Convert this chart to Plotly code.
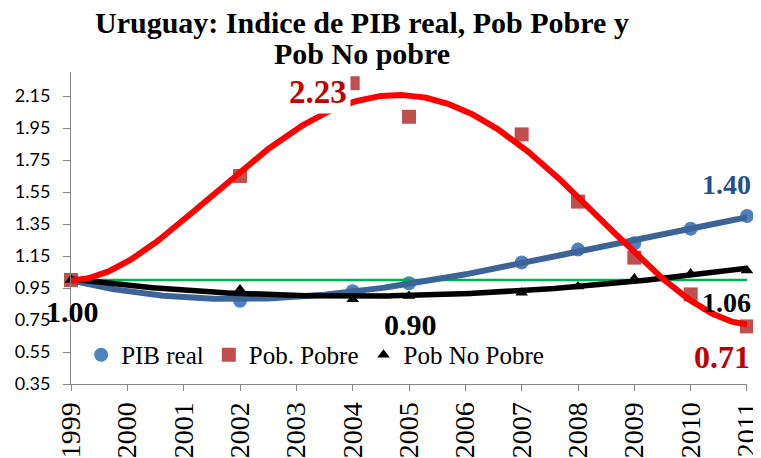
import numpy as np
import plotly.graph_objects as go

years = [1999, 2002, 2004, 2005, 2007, 2008, 2009, 2010, 2011]
pib_real = [1.00, 0.87, 0.93, 0.98, 1.11, 1.19, 1.23, 1.32, 1.40]
pob_pobre = [1.00, 1.65, 2.23, 2.02, 1.91, 1.49, 1.14, 0.91, 0.71]
pob_no_pobre = [1.00, 0.94, 0.88, 0.90, 0.92, 0.96, 1.01, 1.04, 1.06]
base_x = [1999, 2011]
base_y = [1.0, 1.0]
tick_years = list(range(1999, 2012))
y_ticks = [0.35, 0.55, 0.75, 0.95, 1.15, 1.35, 1.55, 1.75, 1.95, 2.15]

SERIF = "Liberation Serif, Times New Roman, serif"

def trend(xs, ys, deg):
    xs = np.array(xs, float)
    c = np.polyfit(xs - 2005, np.array(ys, float), deg)
    xx = np.linspace(1999, 2011, 300)
    return xx, np.polyval(c, xx - 2005)

fig = go.Figure()
fig.add_trace(go.Scatter(x=years, y=pib_real, mode="markers", name="PIB real",
                         marker=dict(symbol="circle", size=14, color="#4F81BD"), cliponaxis=False))
fig.add_trace(go.Scatter(x=years, y=pob_pobre, mode="markers", name="Pob. Pobre",
                         marker=dict(symbol="square", size=14, color="#C0504D"), cliponaxis=False))
fig.add_trace(go.Scatter(x=years, y=pob_no_pobre, mode="markers", name="Pob No Pobre",
                         marker=dict(symbol="triangle-up", size=11, color="#000000"), cliponaxis=False))
fig.add_trace(go.Scatter(x=base_x, y=base_y, mode="lines", showlegend=False,
                         line=dict(color="#00B050", width=2.5)))
bx, by = trend(years, pib_real, 3)
fig.add_trace(go.Scatter(x=bx, y=by, mode="lines", showlegend=False,
                         line=dict(color="#3C6496", width=6)))
kx, ky = trend(years, pob_no_pobre, 3)
fig.add_trace(go.Scatter(x=kx, y=ky, mode="lines", showlegend=False,
                         line=dict(color="#000000", width=5.5)))
rx, ry = trend(years, pob_pobre, 4)
fig.add_trace(go.Scatter(x=rx, y=ry, mode="lines", showlegend=False,
                         line=dict(color="#FF0000", width=6)))

ann = []
def lab(text, x, y, color, size):
    ann.append(dict(text="<b>%s</b>" % text, x=x, y=y, xref="x", yref="y", showarrow=False,
                    font=dict(family=SERIF, size=size, color=color),
                    xanchor="center", yanchor="middle"))

lab("%.2f" % pob_pobre[2], 2003.39, 2.175, "#C00000", 33)
ann[-1]["bgcolor"] = "white"
ann[-1]["borderpad"] = 3
lab("%.2f" % pib_real[-1], 2010.63, 1.60, "#254F8C", 28)
lab("%.2f" % pob_pobre[-1], 2010.56, 0.52, "#C00000", 32)
lab("%.2f" % pob_no_pobre[-1], 2010.63, 0.862, "#000000", 28)
lab("%.2f" % pib_real[0], 1999.02, 0.806, "#000000", 30)
lab("%.2f" % pob_no_pobre[3], 2005.02, 0.72, "#000000", 30)

ann.append(dict(text="<b>Uruguay: Indice de PIB real, Pob Pobre y</b>", x=0.4305, y=1.158,
                xref="paper", yref="paper", showarrow=False, xanchor="center", yanchor="middle",
                font=dict(family=SERIF, size=30, color="#000000")))
ann.append(dict(text="<b>Pob No pobre</b>", x=0.4305, y=1.059,
                xref="paper", yref="paper", showarrow=False, xanchor="center", yanchor="middle",
                font=dict(family=SERIF, size=30, color="#000000")))

fig.update_layout(
    width=753, height=450,
    margin=dict(l=63, r=14, t=64, b=74),
    paper_bgcolor="white", plot_bgcolor="white",
    showlegend=True,
    legend=dict(orientation="h", x=0.015, y=0.093, xanchor="left", yanchor="middle",
                font=dict(family=SERIF, size=25, color="#000000"),
                bgcolor="rgba(0,0,0,0)", itemwidth=30, tracegroupgap=0),
    annotations=ann,
    xaxis=dict(range=[1998.9999, 2011.0001], tickvals=tick_years, ticktext=[str(y) for y in tick_years],
               tickangle=-90, showgrid=False, zeroline=False, showline=True,
               linecolor="#868686", linewidth=1, ticks="outside", ticklen=6, tickcolor="#868686",
               tickfont=dict(family=SERIF, size=28, color="#000000"), automargin=False,
               ticklabeloverflow="allow"),
    yaxis=dict(range=[0.35, 2.30], tickvals=y_ticks, ticktext=["%.2f" % v for v in y_ticks],
               showgrid=False, zeroline=False, showline=True,
               linecolor="#868686", linewidth=1, ticks="outside", ticklen=7, tickcolor="#868686",
               tickfont=dict(family="Lato, Carlito, sans-serif", size=18, color="#000000"),
               ticklabelstandoff=9, automargin=False),
)

fig.write_html("out.html")
